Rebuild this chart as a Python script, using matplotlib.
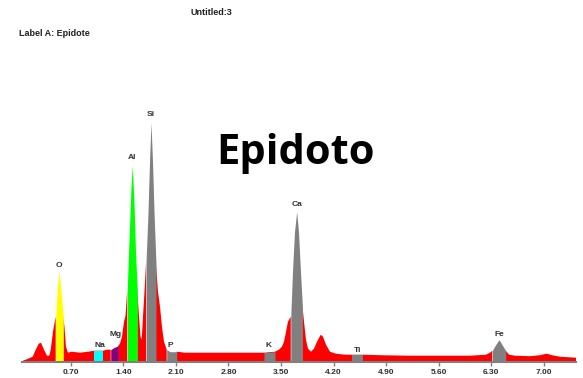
import numpy as np
import matplotlib.pyplot as plt

# spectrum (energy in keV, counts)
energy = [0.06, 0.13, 0.19, 0.23, 0.27, 0.30, 0.34, 0.38, 0.41, 0.43, 0.46,
          0.496, 0.52, 0.544, 0.567, 0.597, 0.613, 0.633, 0.66, 0.71, 0.82,
          0.93, 1.01, 1.13, 1.18, 1.23, 1.27, 1.33, 1.353, 1.38, 1.407, 1.427,
          1.45, 1.473, 1.50, 1.517, 1.54, 1.56, 1.584, 1.607, 1.627, 1.643,
          1.66, 1.68, 1.70, 1.727, 1.747, 1.767, 1.787, 1.807, 1.833, 1.86,
          1.887, 1.913, 1.94, 1.976, 2.02, 2.11, 2.22, 2.42, 2.69, 2.95,
          3.15, 3.273, 3.42, 3.473, 3.513, 3.54, 3.567, 3.593, 3.63, 3.653,
          3.68, 3.709, 3.733, 3.76, 3.784, 3.807, 3.833, 3.86, 3.90, 3.94,
          3.98, 4.03, 4.06, 4.10, 4.153, 4.233, 4.353, 4.443, 4.597, 4.82,
          5.22, 5.62, 6.02, 6.233, 6.287, 6.317, 6.353, 6.407, 6.447, 6.496,
          6.54, 6.62, 6.82, 6.953, 7.043, 7.113, 7.22, 7.433]
counts = [10, 30, 50, 120, 180, 190, 120, 60, 60, 120, 300,
          450, 750, 910, 700, 450, 350, 150, 90, 100, 90,
          100, 110, 110, 120, 120, 140, 160, 180, 250, 400, 460,
          720, 1200, 1750, 1960, 1600, 1100, 720, 450, 250, 220,
          450, 700, 980, 1500, 2000, 2390, 2000, 1500, 980, 700,
          550, 350, 200, 120, 100, 100, 90, 90, 90, 90,
          90, 90, 100, 120, 150, 200, 300, 400, 450, 900,
          1300, 1500, 1300, 900, 570, 400, 220, 130, 100, 130,
          200, 270, 250, 170, 100, 80, 70, 70, 70, 65,
          60, 60, 60, 70, 90, 110, 160, 220, 170, 110,
          70, 60, 55, 65, 80, 65, 50, 40]

# element windows and labels
elements = ['O', 'Na', 'Mg', 'Al', 'Si', 'P', 'K', 'Ca', 'Ti', 'Fe']
win_lo = [0.496, 1.01, 1.23, 1.45, 1.70, 1.976, 3.273, 3.63, 4.443, 6.317]
win_hi = [0.597, 1.13, 1.33, 1.584, 1.833, 2.11, 3.42, 3.784, 4.597, 6.496]
label_e = [0.544, 1.09, 1.30, 1.517, 1.767, 2.03, 3.33, 3.709, 4.52, 6.407]
label_c = [930, 130, 240, 2010, 2440, 130, 130, 1540, 80, 240]
win_colors = ['#ffff00', '#00ffff', '#800080', '#00ff00', '#808080',
              '#808080', '#808080', '#808080', '#808080', '#808080']

ticks = [0.70, 1.40, 2.10, 2.80, 3.50, 4.20, 4.90, 5.60, 6.30, 7.00]

energy = np.array(energy)
counts = np.array(counts)

fig = plt.figure(figsize=(5.83, 3.78), dpi=100)
ax = fig.add_axes([22 / 583, 1 - 361.7 / 378, 554 / 583, 301.7 / 378])

# red background spectrum, left out inside the element windows
outside = np.ones(len(energy), dtype=bool)
for lo, hi in zip(win_lo, win_hi):
    outside &= ~((energy > lo + 1e-9) & (energy < hi - 1e-9))
ax.fill_between(energy, counts, where=outside, color='#ff0000', lw=0)
for lo, hi, c in zip(win_lo, win_hi, win_colors):
    m = (energy >= lo - 1e-9) & (energy <= hi + 1e-9)
    ax.fill_between(energy[m], counts[m], color=c, lw=0)

for name, e, c in zip(elements, label_e, label_c):
    ax.text(e, c, name, ha='center', va='bottom', fontsize=6,
            fontweight='bold', color='#303030', family='Liberation Sans')

ax.set_xlim(0.047, 7.433)
ax.set_ylim(0, 3017)
for s in ['top', 'left', 'right']:
    ax.spines[s].set_visible(False)
ax.spines['bottom'].set_color('#808080')
ax.spines['bottom'].set_linewidth(1.5)
ax.set_yticks([])
ax.set_xticks(ticks)
ax.set_xticklabels(['%.2f' % t for t in ticks], fontsize=6,
                   fontweight='bold', color='#303030', family='Liberation Sans')
ax.tick_params(axis='x', length=3, width=1, color='#808080', pad=2)

fig.text(211 / 583, 1 - 12.7 / 378, 'Untitled:3', ha='center', va='center',
         fontsize=6.5, fontweight='bold', color='#202020', family='Liberation Sans')
fig.text(19 / 583, 1 - 33.3 / 378, 'Label A: Epidote', ha='left', va='center',
         fontsize=6.5, fontweight='bold', color='#202020', family='Liberation Sans')
fig.text(296 / 583, 1 - 153 / 378, 'Epidoto', ha='center', va='center',
         fontsize=30, fontweight='bold', color='black', family='Open Sans')

fig.savefig('out.png', dpi=100)
